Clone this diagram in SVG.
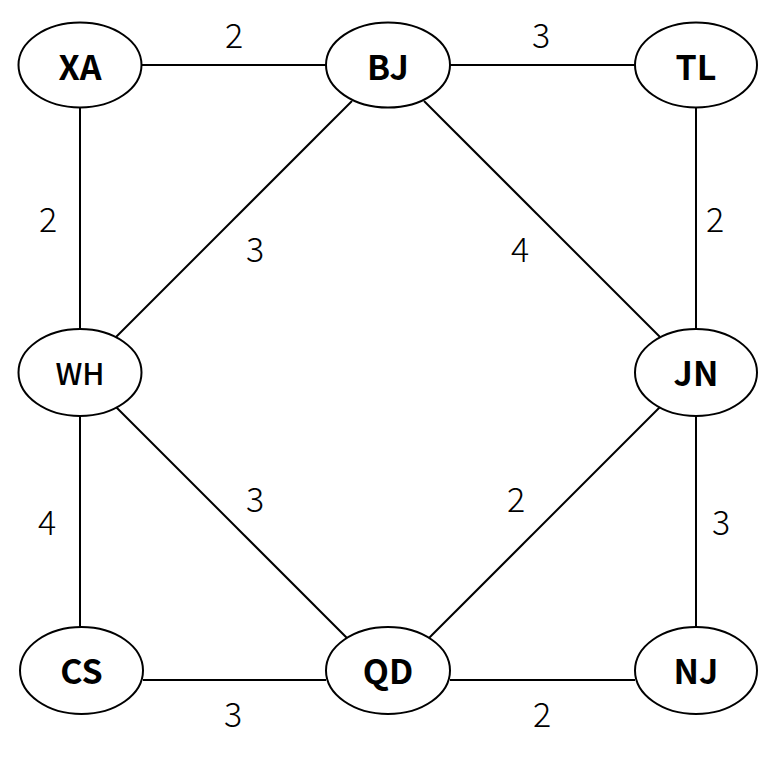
<svg xmlns="http://www.w3.org/2000/svg" width="770" height="759" viewBox="0 0 770 759">
<style>
.n ellipse{fill:#fff;stroke:#000;stroke-width:2}
.n text{font-family:"Noto Sans CJK SC","Noto Sans",sans-serif;font-size:34px;font-weight:bold;text-anchor:middle;fill:#000}
#edges line{stroke:#000;stroke-width:2}
.w{font-family:"Noto Sans CJK SC","Noto Sans",sans-serif;font-size:34px;font-weight:300;text-anchor:middle;fill:#000}
</style>
<rect width="770" height="759" fill="#fff"/>
<g id="edges">
<line x1="142" y1="65" x2="326" y2="65"/>
<line x1="450" y1="65" x2="635" y2="65"/>
<line x1="80" y1="108" x2="80" y2="329"/>
<line x1="696" y1="108" x2="696" y2="329"/>
<line x1="352" y1="101" x2="116" y2="337"/>
<line x1="424" y1="101" x2="660" y2="337"/>
<line x1="116" y1="407" x2="347" y2="638"/>
<line x1="660" y1="407" x2="429" y2="638"/>
<line x1="80" y1="416" x2="80" y2="627"/>
<line x1="696" y1="416" x2="696" y2="627"/>
<line x1="143" y1="680" x2="326" y2="680"/>
<line x1="450" y1="680" x2="635" y2="680"/>
<text class="w" x="234" y="48">2</text>
<text class="w" x="541" y="48">3</text>
<text class="w" x="48" y="232">2</text>
<text class="w" x="715" y="232">2</text>
<text class="w" x="255" y="262">3</text>
<text class="w" x="520" y="262">4</text>
<text class="w" x="255" y="512">3</text>
<text class="w" x="516" y="512">2</text>
<text class="w" x="47" y="535">4</text>
<text class="w" x="721" y="535">3</text>
<text class="w" x="233" y="727">3</text>
<text class="w" x="542" y="727">2</text>
</g>
<g id="XA" class="n"><ellipse cx="80" cy="65" rx="61.5" ry="42.5"/><text x="80" y="80">XA</text></g>
<g id="BJ" class="n"><ellipse cx="388" cy="65" rx="62" ry="42.5"/><text x="388" y="80">BJ</text></g>
<g id="TL" class="n"><ellipse cx="696" cy="65" rx="61" ry="42.5"/><text x="696" y="80">TL</text></g>
<g id="WH" class="n"><ellipse cx="80" cy="372.5" rx="61.5" ry="43.5"/><text x="80" y="385" style="font-weight:500;font-size:30px">WH</text></g>
<g id="JN" class="n"><ellipse cx="696" cy="372.5" rx="61" ry="43.5"/><text x="696" y="386">JN</text></g>
<g id="CS" class="n"><ellipse cx="81.5" cy="670.5" rx="61.5" ry="43.5"/><text x="81.5" y="684">CS</text></g>
<g id="QD" class="n"><ellipse cx="388" cy="670.5" rx="62" ry="43.5"/><text x="388" y="684">QD</text></g>
<g id="NJ" class="n"><ellipse cx="696" cy="670.5" rx="61" ry="43.5"/><text x="696" y="684">NJ</text></g>
</svg>
